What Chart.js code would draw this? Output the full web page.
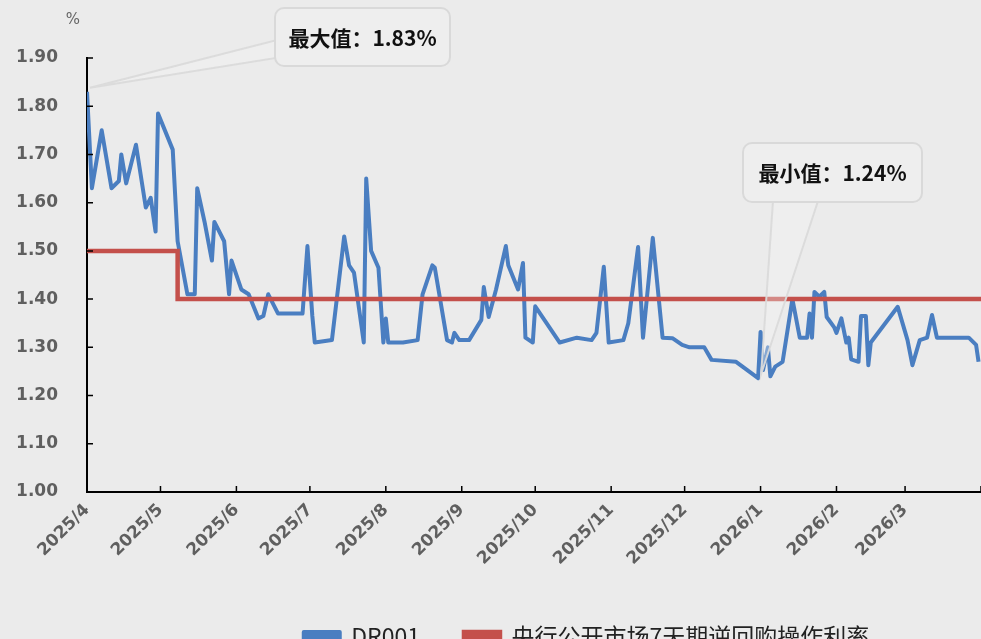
<!DOCTYPE html>
<html lang="zh-CN">
<head>
<meta charset="utf-8">
<title>DR001 与 7天期逆回购操作利率</title>
<script src="https://cdn.jsdelivr.net/npm/chart.js@4.4.1/dist/chart.umd.min.js"></script>
<style>
  html, body { margin: 0; padding: 0; background: #ebebeb; overflow: hidden; }
  #wrap { width: 981px; height: 639px; overflow: hidden; }
  canvas { display: block; }
</style>
</head>
<body>
<div id="wrap"><canvas id="chart" width="1173" height="658"></canvas></div>
<script>
// DR001, turning points
const dr001Dates = [
    '2025-04-01', '2025-04-03', '2025-04-07', '2025-04-11', '2025-04-14', '2025-04-15', '2025-04-16', '2025-04-17',
    '2025-04-21', '2025-04-25', '2025-04-27', '2025-04-29', '2025-04-30', '2025-05-06', '2025-05-08', '2025-05-12',
    '2025-05-15', '2025-05-16', '2025-05-19', '2025-05-22', '2025-05-23', '2025-05-27', '2025-05-29', '2025-05-30',
    '2025-06-03', '2025-06-06', '2025-06-10', '2025-06-12', '2025-06-14', '2025-06-18', '2025-06-28', '2025-06-30',
    '2025-07-02', '2025-07-03', '2025-07-10', '2025-07-15', '2025-07-17', '2025-07-19', '2025-07-23', '2025-07-24',
    '2025-07-26', '2025-07-29', '2025-07-31', '2025-08-01', '2025-08-02', '2025-08-08', '2025-08-14', '2025-08-16',
    '2025-08-20', '2025-08-21', '2025-08-26', '2025-08-28', '2025-08-29', '2025-08-31', '2025-09-04', '2025-09-09',
    '2025-09-10', '2025-09-12', '2025-09-15', '2025-09-19', '2025-09-20', '2025-09-24', '2025-09-26', '2025-09-27',
    '2025-09-30', '2025-10-01', '2025-10-11', '2025-10-18', '2025-10-24', '2025-10-26', '2025-10-29', '2025-10-31',
    '2025-11-06', '2025-11-08', '2025-11-12', '2025-11-14', '2025-11-18', '2025-11-22', '2025-11-26', '2025-11-30',
    '2025-12-03', '2025-12-09', '2025-12-12', '2025-12-22', '2025-12-31', '2026-01-01', '2026-01-02', '2026-01-04',
    '2026-01-05', '2026-01-07', '2026-01-10', '2026-01-14', '2026-01-17', '2026-01-20', '2026-01-21', '2026-01-22',
    '2026-01-23', '2026-01-25', '2026-01-27', '2026-01-28', '2026-01-31', '2026-02-01', '2026-02-03', '2026-02-05',
    '2026-02-06', '2026-02-07', '2026-02-10', '2026-02-11', '2026-02-13', '2026-02-14', '2026-02-15', '2026-02-26',
    '2026-03-02', '2026-03-04', '2026-03-07', '2026-03-10', '2026-03-12', '2026-03-14', '2026-03-27', '2026-03-30',
    '2026-03-31'
];
const dr001Values = [
    1.83, 1.63, 1.75, 1.63, 1.645, 1.70, 1.67, 1.64,
    1.72, 1.59, 1.61, 1.54, 1.785, 1.71, 1.52, 1.41,
    1.41, 1.63, 1.56, 1.48, 1.56, 1.52, 1.41, 1.48,
    1.42, 1.41, 1.36, 1.365, 1.41, 1.37, 1.37, 1.51,
    1.365, 1.31, 1.315, 1.53, 1.47, 1.455, 1.31, 1.65,
    1.50, 1.465, 1.31, 1.36, 1.31, 1.31, 1.315, 1.41,
    1.47, 1.465, 1.315, 1.31, 1.33, 1.315, 1.315, 1.357,
    1.425, 1.363, 1.42, 1.51, 1.47, 1.42, 1.475, 1.32,
    1.31, 1.385, 1.31, 1.32, 1.315, 1.33, 1.467, 1.31,
    1.315, 1.35, 1.508, 1.32, 1.527, 1.32, 1.319, 1.305,
    1.30, 1.30, 1.274, 1.27, 1.236, 1.332, 1.253, 1.30,
    1.24, 1.26, 1.27, 1.40, 1.32, 1.32, 1.37, 1.32,
    1.415, 1.405, 1.415, 1.363, 1.342, 1.33, 1.36, 1.31,
    1.32, 1.275, 1.27, 1.365, 1.365, 1.263, 1.31, 1.384,
    1.315, 1.263, 1.315, 1.32, 1.367, 1.32, 1.32, 1.305,
    1.27
];

// 7-day reverse repo rate, step changes
const repoDates = ['2025-04-01', '2025-05-08', '2026-04-01'];
const repoRates = [1.50, 1.40, 1.40];

const monthTickLabels = ['2025/4', '2025/5', '2025/6', '2025/7', '2025/8', '2025/9', '2025/10',
    '2025/11', '2025/12', '2026/1', '2026/2', '2026/3'];
const axisEndDate = '2026-04-01';

const yTickMin = 1.00, yTickMax = 1.90, yTickStep = 0.10;

// layout
const W = 1173;
const PLOT_LEFT = 87, PLOT_TOP = 58, VISIBLE_RIGHT = 981;
const BLUE = '#4a7ec1', RED = '#c4504b';
const TICK_GREY = '#5f5f5f';

const DAY = 86400000;
const origin = Date.UTC(2025, 3, 1);
const dayOf = (s) => { const [y, m, d] = s.split('-').map(Number); return (Date.UTC(y, m - 1, d) - origin) / DAY; };
const monthDay = (lbl) => { const [y, m] = lbl.split('/').map(Number); return (Date.UTC(y, m - 1, 1) - origin) / DAY; };

const endDay = dayOf(axisEndDate);
const xMax = endDay * (W - PLOT_LEFT) / (VISIBLE_RIGHT - PLOT_LEFT);
const tickDays = monthTickLabels.map(monthDay).concat([endDay]);

const drPoints = dr001Dates.map((d, i) => ({ x: dayOf(d), y: dr001Values[i] }));
const repoPoints = repoDates.map((d, i) => ({ x: dayOf(d), y: repoRates[i] }));

// ticks drawn inside the plot, like the original
const innerTicks = {
    id: 'innerTicks',
    afterDatasetsDraw(chart) {
        const { ctx, chartArea, scales: { x, y } } = chart;
        ctx.save();
        ctx.strokeStyle = '#000';
        ctx.lineWidth = 1.5;
        ctx.beginPath();
        x.ticks.forEach(t => {
            const px = x.getPixelForValue(t.value);
            ctx.moveTo(px, chartArea.bottom);
            ctx.lineTo(px, chartArea.bottom - 6);
        });
        y.ticks.forEach(t => {
            const py = y.getPixelForValue(t.value);
            ctx.moveTo(chartArea.left, py);
            ctx.lineTo(chartArea.left + 6, py);
        });
        ctx.stroke();
        ctx.restore();
    }
};

const roundRect = (ctx, x, y, w, h, r) => {
    ctx.beginPath();
    ctx.moveTo(x + r, y);
    ctx.arcTo(x + w, y, x + w, y + h, r);
    ctx.arcTo(x + w, y + h, x, y + h, r);
    ctx.arcTo(x, y + h, x, y, r);
    ctx.arcTo(x, y, x + w, y, r);
    ctx.closePath();
};

// max / min callouts
const callouts = {
    id: 'callouts',
    afterDraw(chart) {
        const { ctx, scales: { x, y } } = chart;
        const iMax = dr001Values.indexOf(Math.max(...dr001Values));
        const iMin = dr001Values.indexOf(Math.min(...dr001Values));
        const boxes = [
            { text: `最大值：${dr001Values[iMax].toFixed(2)}%`, i: iMax, rect: [275, 8, 175, 58], base: [[277, 40], [276, 58]] },
            { text: `最小值：${dr001Values[iMin].toFixed(2)}%`, i: iMin, rect: [743, 143, 179, 59], base: [[773, 201], [818, 201]] },
        ];
        ctx.save();
        boxes.forEach(b => {
            const tx = x.getPixelForValue(drPoints[b.i].x) + 3;
            const ty = y.getPixelForValue(drPoints[b.i].y) - 4;
            ctx.beginPath();
            ctx.moveTo(tx, ty);
            ctx.lineTo(b.base[0][0], b.base[0][1]);
            ctx.lineTo(b.base[1][0], b.base[1][1]);
            ctx.closePath();
            ctx.fillStyle = 'rgba(244,244,244,0.35)';
            ctx.fill();
            ctx.strokeStyle = 'rgba(218,218,218,0.95)';
            ctx.lineWidth = 2;
            ctx.stroke();

            const [rx, ry, rw, rh] = b.rect;
            roundRect(ctx, rx, ry, rw, rh, 9);
            ctx.fillStyle = '#eeeeee';
            ctx.fill();
            ctx.strokeStyle = '#d9d9d9';
            ctx.stroke();

            ctx.fillStyle = '#111';
            ctx.font = 'bold 21px "Noto Sans CJK SC"';
            ctx.textAlign = 'center';
            ctx.textBaseline = 'middle';
            ctx.fillText(b.text, rx + rw / 2, ry + rh / 2 + 1);
        });
        // unit
        ctx.fillStyle = '#666';
        ctx.font = '15px "DejaVu Sans"';
        ctx.textAlign = 'center';
        ctx.fillText('%', 73, 20);
        ctx.restore();
    }
};

const ctx = document.getElementById('chart').getContext('2d');
new Chart(ctx, {
    type: 'line',
    data: {
        datasets: [
            {
                label: 'DR001', data: drPoints, borderColor: BLUE, backgroundColor: BLUE,
                borderWidth: 4, pointRadius: 0, tension: 0, borderJoinStyle: 'round', order: 2
            },
            {
                label: '央行公开市场7天期逆回购操作利率', data: repoPoints, stepped: 'before',
                borderColor: RED, backgroundColor: RED, borderWidth: 4.5, pointRadius: 0, order: 1
            }
        ]
    },
    options: {
        responsive: false,
        animation: false,
        devicePixelRatio: 1,
        layout: { padding: { top: PLOT_TOP, left: 0, right: 0, bottom: 0 } },
        plugins: {
            tooltip: { enabled: false },
            legend: {
                position: 'bottom',
                labels: {
                    boxWidth: 36, boxHeight: 9, padding: 44, color: '#222',
                    font: { family: '"Noto Sans CJK SC"', size: 23 },
                    sort: (a, b) => a.datasetIndex - b.datasetIndex
                }
            }
        },
        scales: {
            x: {
                type: 'linear', min: 0, max: xMax,
                afterBuildTicks: (s) => { s.ticks = tickDays.map(v => ({ value: v })); },
                afterFit: (s) => { s.height = 89; },
                grid: { display: false, drawTicks: false },
                border: { display: true, color: '#000', width: 2 },
                ticks: {
                    autoSkip: false, minRotation: 45, maxRotation: 45, padding: 8, color: TICK_GREY,
                    font: { family: '"DejaVu Sans"', size: 17, weight: 'bold' },
                    callback: (v, i) => monthTickLabels[i] || ''
                }
            },
            y: {
                min: yTickMin, max: yTickMax,
                afterFit: (s) => { s.width = PLOT_LEFT; },
                grid: { display: false, drawTicks: false },
                border: { display: true, color: '#000', width: 2 },
                ticks: {
                    stepSize: yTickStep, padding: 29, color: TICK_GREY,
                    font: { family: '"DejaVu Sans"', size: 17, weight: 'bold' },
                    callback: (v) => Number(v).toFixed(2)
                }
            }
        }
    },
    plugins: [innerTicks, callouts]
});
</script>
</body>
</html>
